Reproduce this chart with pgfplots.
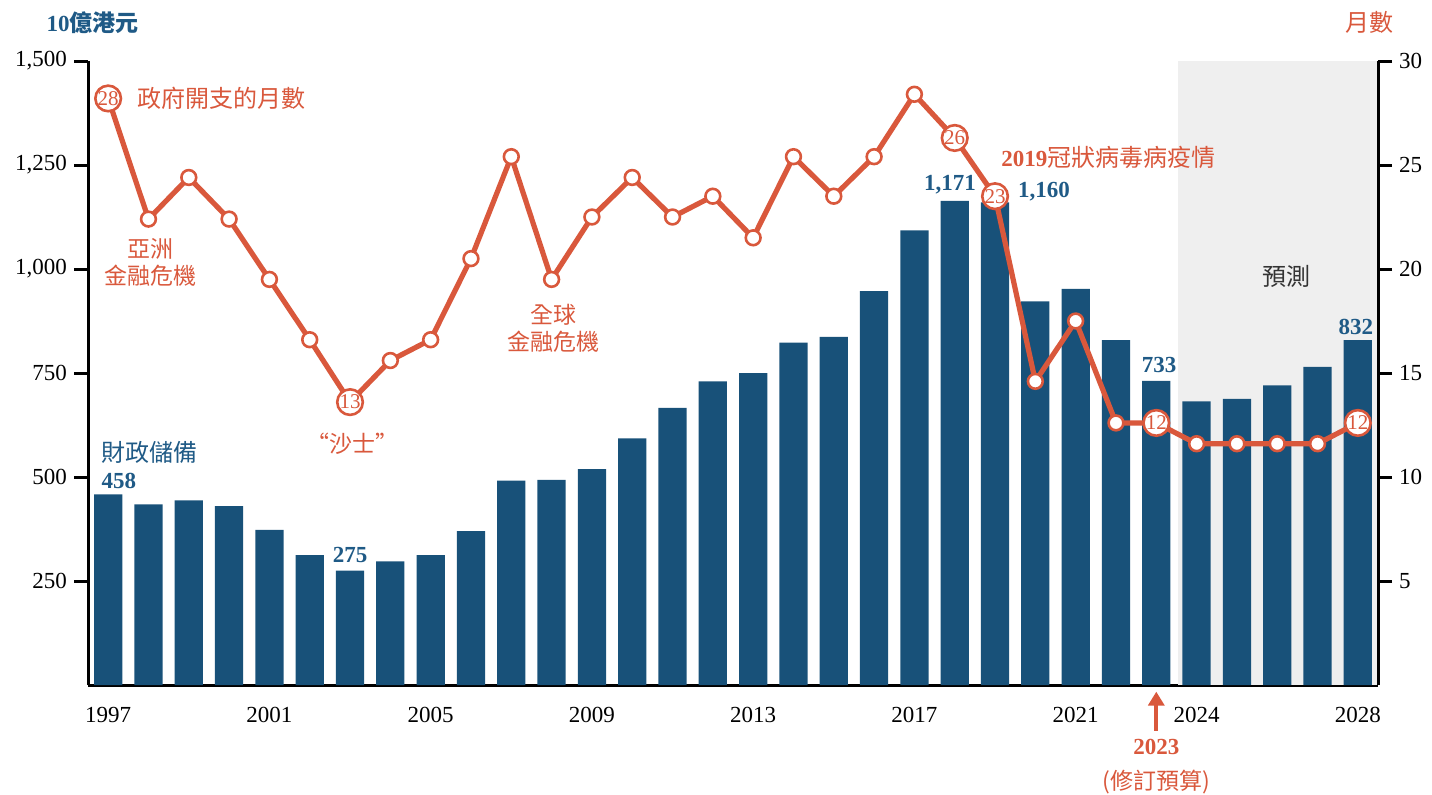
\documentclass[border=0pt]{standalone}
\usepackage{fontspec}
\setmainfont{Liberation Serif}
\newfontfamily\cjk{Noto Sans CJK TC}
\usepackage{pgfplots}
\pgfplotsset{compat=1.18}
\usetikzlibrary{arrows.meta}
\definecolor{barC}{HTML}{185179}
\definecolor{lblC}{HTML}{1F5A86}
\definecolor{lineC}{HTML}{D9583C}
\definecolor{shadeC}{HTML}{EFEFEF}
\newcommand{\fz}[1]{\fontsize{#1}{#1}\selectfont}

\pgfplotstableread{
year reserve
1997 458
1998 434
1999 444
2000 430
2001 373
2002 312
2003 275
2004 297
2005 312
2006 370
2007 491
2008 493
2009 519
2010 593
2011 666
2012 730
2013 750
2014 823
2015 837
2016 947
2017 1093
2018 1164
2019 1160
2020 922
2021 952
2022 829
2023 731
2024 682
2025 688
2026 720
2027 765
2028 829
}\reserves

\pgfplotstableread{
year months
1997 28.2
1998 22.4
1999 24.4
2000 22.4
2001 19.5
2002 16.6
2003 13.6
2004 15.6
2005 16.6
2006 20.5
2007 25.4
2008 19.5
2009 22.5
2010 24.4
2011 22.5
2012 23.5
2013 21.5
2014 25.4
2015 23.5
2016 25.4
2017 28.4
2018 26.3
2019 23.5
2020 14.6
2021 17.5
2022 12.6
2023 12.6
2024 11.6
2025 11.6
2026 11.6
2027 11.6
2028 12.6
}\months

\begin{document}
\begin{tikzpicture}
\useasboundingbox (0,0) rectangle (716pt,397pt);
% ---------- left axis: bars ----------
\begin{axis}[
  at={(44pt,54.5pt)}, anchor=south west,
  width=645pt, height=312pt, scale only axis,
  xmin=1996.5, xmax=2028.5, ymin=0, ymax=1500,
  clip=false,
  axis x line*=bottom, axis y line*=left,
  axis line style={line width=1.5pt},
  ytick={250,500,750,1000,1250,1500},
  scaled y ticks=false,
  /pgf/number format/assume math mode=true,
  /pgf/number format/1000 sep={,},
  yticklabel style={font=\fz{11.5}, text=black},
  xtick={1997,2001,2005,2009,2013,2017,2021,2024,2028},
  xticklabels={1997,2001,2005,2009,2013,2017,2021,2024,2028},
  xticklabel style={font=\fz{11.5}, text=black, yshift=-0.5pt},
  tick align=outside,
  major tick length=7pt,
  ytick style={line width=1.5pt, black},
  xtick style={draw=none},
]
\fill[shadeC] (axis cs:2023.55,0) rectangle (axis cs:2028.5,1500);
\addplot[ybar, bar width=0.7, fill=barC, draw=none] table[x=year, y=reserve] {\reserves};
% bar labels
\node[font=\cjk\fz{12}, text=lblC, anchor=west] at (axis cs:1996.66,560) {財政儲備};
\node[font=\bfseries\fz{11.5}, text=lblC, anchor=west] at (axis cs:1996.66,490) {458};
\node[font=\bfseries\fz{11.5}, text=lblC] at (axis cs:2003,312) {275};
\node[font=\bfseries\fz{11.5}, text=lblC] at (axis cs:2017.88,1202) {1,171};
\node[font=\bfseries\fz{11.5}, text=lblC, anchor=west] at (axis cs:2019.4,1185) {1,160};
\node[font=\bfseries\fz{11.5}, text=lblC] at (axis cs:2023.07,769) {733};
\node[font=\bfseries\fz{11.5}, text=lblC] at (axis cs:2027.95,860) {832};
\node[font=\cjk\fz{12}, text=black!80] at (axis cs:2026.24,981) {預測};
% 2023 revised budget arrow
\draw[-{Triangle[length=7pt,width=8pt]}, lineC, line width=2pt] (axis cs:2023,-110) -- (axis cs:2023,-16);
\node[font=\bfseries\fz{11.5}, text=lineC] at (axis cs:2023,-150) {2023};
\node[font=\cjk\fz{11.5}, text=lineC] at (axis cs:2023,-233) {(修訂預算)};
% header
\node[font=\fz{11.5}, text=lblC, anchor=west] at (axis cs:1995.3,1592) {\textbf{10}{\cjk\bfseries 億港元}};
\end{axis}
% ---------- right axis: months ----------
\begin{axis}[
  at={(44pt,54.5pt)}, anchor=south west,
  width=645pt, height=312pt, scale only axis,
  xmin=1996.5, xmax=2028.5, ymin=0, ymax=30,
  clip=false,
  hide x axis,
  axis y line*=right,
  axis line style={line width=1.5pt},
  ytick={5,10,15,20,25,30},
  /pgf/number format/assume math mode=true,
  yticklabel style={font=\fz{11.5}, text=black},
  tick align=outside,
  major tick length=7pt,
  ytick style={line width=1.5pt, black},
]
\addplot[lineC, line width=2.6pt, mark=*, mark size=3.7pt,
  mark options={fill=white, draw=lineC, line width=1.3pt}]
  table[x=year, y=months] {\months};
\addplot[only marks, mark=*, mark size=6.4pt,
  mark options={fill=white, draw=lineC, line width=1.3pt},
  nodes near coords, point meta=explicit symbolic,
  nodes near coords style={anchor=center, font=\fz{10.5}, text=lineC, inner sep=0pt}]
  coordinates {(1997,28.2)[28] (2003,13.6)[13] (2018,26.3)[26] (2019,23.5)[23] (2023,12.6)[12] (2028,12.6)[12]};
% annotations
\node[font=\cjk\fz{12}, text=lineC, anchor=west] at (axis cs:1997.55,28.2) {政府開支的月數};
\node[font=\cjk\fz{11.5}, text=lineC, align=center, inner sep=0pt] at (axis cs:1998.04,20.3) {亞洲\\[2pt]金融危機};
\node[font=\cjk\fz{11.5}, text=lineC] at (axis cs:2003.05,11.6) {“沙士”};
\node[font=\cjk\fz{11.5}, text=lineC, align=center, inner sep=0pt] at (axis cs:2008.04,17.15) {全球\\[2pt]金融危機};
\node[text=lineC, anchor=west] at (axis cs:2018.98,25.35) {\fz{11.5}\bfseries 2019{\cjk\mdseries\fz{12}冠狀病毒病疫情}};
\node[font=\cjk\fz{12}, text=lineC, anchor=east] at (axis cs:2029.05,31.85) {月數};
\end{axis}
\end{tikzpicture}
\end{document}
